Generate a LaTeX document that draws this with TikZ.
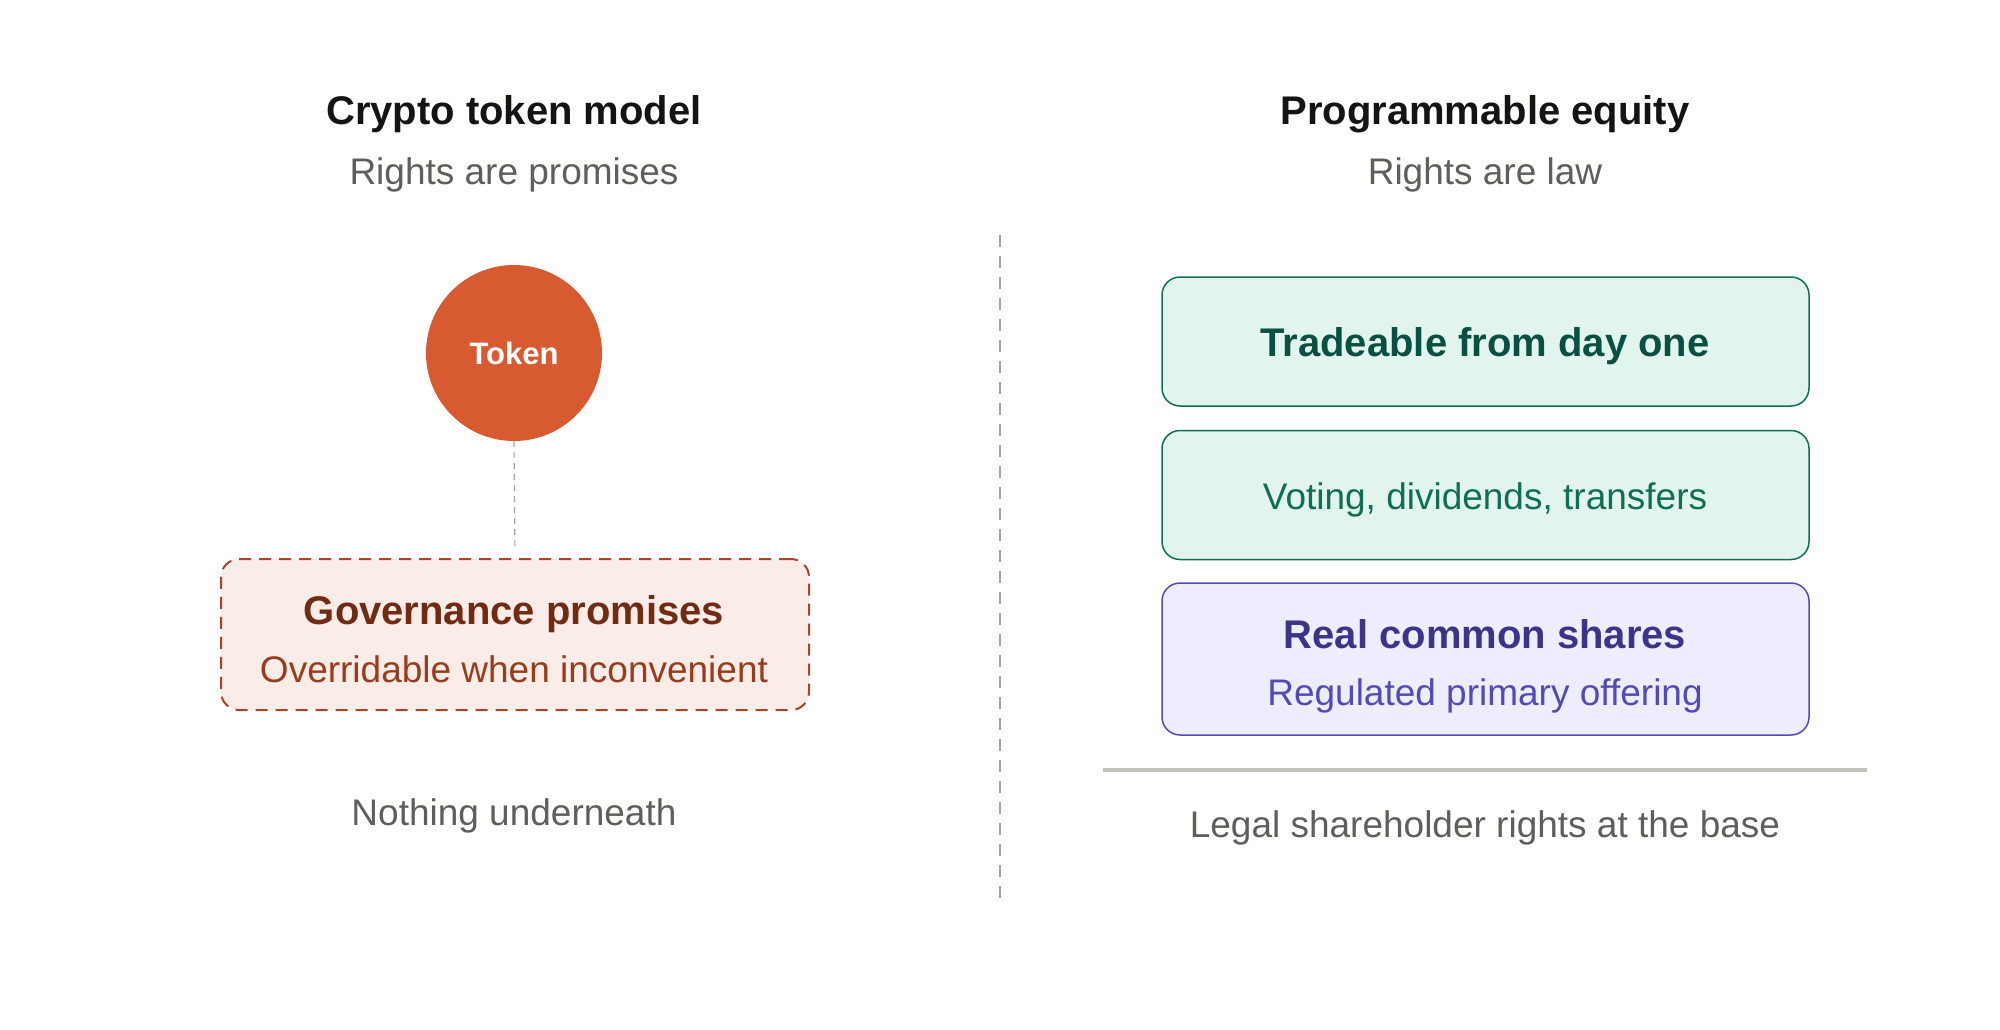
\documentclass[tikz,border=0pt]{standalone}
\usepackage{fontspec}
\setmainfont{Liberation Sans}
\usetikzlibrary{positioning}
\definecolor{inkblack}{HTML}{141413}
\definecolor{inkgray}{HTML}{5F5E5A}
\definecolor{rulegray}{HTML}{A3A29C}
\definecolor{basegray}{HTML}{C4C3BD}
\definecolor{tokenorange}{HTML}{D85A30}
\definecolor{promisefill}{HTML}{FAECE7}
\definecolor{promiseline}{HTML}{A8442A}
\definecolor{promisedark}{HTML}{712B13}
\definecolor{promisetext}{HTML}{993C1D}
\definecolor{greenfill}{HTML}{E1F5EE}
\definecolor{greenline}{HTML}{0F6E56}
\definecolor{greendark}{HTML}{085041}
\definecolor{purplefill}{HTML}{EEEDFE}
\definecolor{purpleline}{HTML}{534AB7}
\definecolor{purpledark}{HTML}{3C3489}

\begin{document}
\begin{tikzpicture}[x=1pt, y=-1pt,
    textline/.style={inner sep=0pt, text height=29pt, text depth=8pt, yshift=-4pt},
    heading/.style={textline, font=\fontsize{40}{48}\selectfont\bfseries, text=inkblack},
    caption/.style={textline, font=\fontsize{37}{44}\selectfont, text=inkgray},
    boldline/.style={textline, font=\fontsize{40}{48}\selectfont\bfseries},
    plainline/.style={textline, font=\fontsize{37}{44}\selectfont},
    layer/.style={draw, line width=1.5pt, rounded corners=18pt, minimum width=647pt},
    greenlayer/.style={layer, fill=greenfill, draw=greenline, minimum height=129pt},
    purplelayer/.style={layer, fill=purplefill, draw=purpleline, minimum height=152pt}
]
\useasboundingbox[fill=white] (0, 0) rectangle (2000, 1029);

% left column
\node[heading] (lefttitle) at (514, 110) {Crypto token model};
\node[caption] (leftsub) at (514, 170) {Rights are promises};
\node[circle, fill=tokenorange, minimum size=176pt, inner sep=0pt,
      text=white, font=\fontsize{31}{36}\selectfont\bfseries] (token) at (514, 353) {Token};
\node[draw=promiseline, fill=promisefill, line width=2pt, dash pattern=on 12pt off 8pt,
      rounded corners=18pt, minimum width=588pt, minimum height=151pt] (promises) at (515, 634.5) {};
\node[boldline, text=promisedark] (promisetitle) at (514, 610) {Governance promises};
\node[plainline, text=promisetext] (promisesub) at (514, 668) {Overridable when inconvenient};
\node[caption] (nothing) at (514, 811) {Nothing underneath};
\draw[rulegray, line width=1.2pt, dash pattern=on 6pt off 5pt, shorten >=11pt]
    (token.south) -- (promises.north);

% divider
\coordinate (divtop) at (1000, 235);
\coordinate (divbottom) at (1000, 906);
\draw[rulegray, line width=2pt, dash pattern=on 12pt off 9pt] (divtop) -- (divbottom);

% right column
\node[heading] (righttitle) at (1485, 110) {Programmable equity};
\node[caption] (rightsub) at (1485, 170) {Rights are law};
\node[greenlayer] (trade) at (1485.5, 341.5) {};
\node[boldline, text=greendark] (tradetext) at (1485, 342) {Tradeable from day one};
\node[greenlayer] (rights) at (1485.5, 495) {};
\node[plainline, text=greenline] (rightstext) at (1485, 495) {Voting, dividends, transfers};
\node[purplelayer] (shares) at (1485.5, 659) {};
\node[boldline, text=purpledark] (sharestitle) at (1485, 634) {Real common shares};
\node[plainline, text=purpleline] (sharessub) at (1485, 691) {Regulated primary offering};
\coordinate (baseleft) at (1103, 770);
\coordinate (baseright) at (1867, 770);
\draw[basegray, line width=3.5pt] (baseleft) -- (baseright);
\node[caption] (legal) at (1485, 823) {Legal shareholder rights at the base};
\end{tikzpicture}
\end{document}
